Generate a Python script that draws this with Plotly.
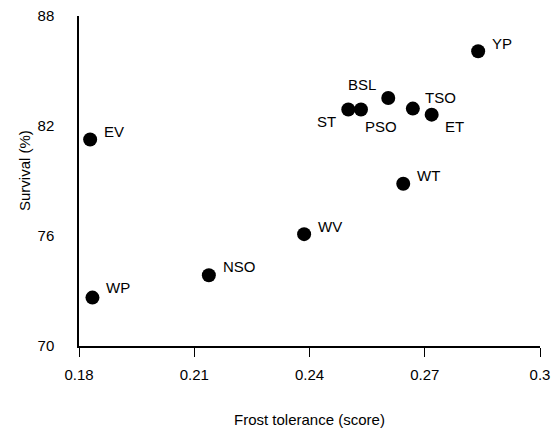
import plotly.graph_objects as go

# Seed sources: frost tolerance score vs. survival
sources = ["EV", "WP", "NSO", "WV", "YP", "BSL", "ST", "PSO", "TSO", "ET", "WT"]
frost_tolerance = [0.1829, 0.1835, 0.2138, 0.2386, 0.2839, 0.2605, 0.2501, 0.2534, 0.2669, 0.2718, 0.2644]
survival = [81.26, 72.64, 73.86, 76.10, 86.08, 83.53, 82.90, 82.90, 82.95, 82.62, 78.85]

x_ticks = [0.18, 0.21, 0.24, 0.27, 0.30]
x_tick_text = ["0.18", "0.21", "0.24", "0.27", "0.3"]
y_ticks = [70, 76, 82, 88]

# label placement per source: (xanchor, xshift, yshift)
label_offsets = {
    "EV": ("left", 12, 8),
    "WP": ("left", 12, 10),
    "NSO": ("left", 12, 9),
    "WV": ("left", 12, 8),
    "YP": ("left", 12, 8),
    "BSL": ("right", -10, 13),
    "ST": ("right", -10, -12),
    "PSO": ("left", 2, -17),
    "TSO": ("left", 10, 11),
    "ET": ("left", 11, -12),
    "WT": ("left", 12, 8),
}

font_family = "Liberation Sans, Arial, sans-serif"

fig = go.Figure()
fig.add_trace(go.Scatter(
    x=frost_tolerance, y=survival, mode="markers",
    marker=dict(size=14, color="black", line=dict(width=0)),
    hoverinfo="text", text=sources, showlegend=False,
))

for name, xv, yv in zip(sources, frost_tolerance, survival):
    anchor, dx, dy = label_offsets[name]
    fig.add_annotation(
        x=xv, y=yv, text=name, showarrow=False,
        xanchor=anchor, yanchor="middle", xshift=dx, yshift=dy,
        font=dict(family=font_family, size=15, color="black"),
    )

# axis titles
fig.add_annotation(
    xref="paper", yref="paper", x=(309 - 79) / 461, y=-(419 - 346) / 330,
    text="Frost tolerance (score)", showarrow=False,
    xanchor="center", yanchor="middle",
    font=dict(family=font_family, size=15, color="black"),
)
fig.add_annotation(
    xref="paper", yref="paper", x=-(79 - 24) / 461, y=(346 - 171) / 330,
    text="Survival (%)", showarrow=False, textangle=-90,
    xanchor="center", yanchor="middle",
    font=dict(family=font_family, size=15, color="black"),
)

fig.update_layout(
    width=554, height=428,
    margin=dict(l=79, r=14, t=16, b=82),
    paper_bgcolor="white", plot_bgcolor="white",
    font=dict(family=font_family, size=14, color="black"),
    xaxis=dict(
        range=[0.18, 0.30], tickvals=x_ticks, ticktext=x_tick_text,
        showgrid=False, zeroline=False, showline=True, automargin=False,
        linecolor="black", linewidth=1.5,
        ticks="outside", ticklen=9, tickwidth=1, tickcolor="black",
        ticklabelstandoff=5,
        tickfont=dict(size=15, color="black"),
    ),
    yaxis=dict(
        range=[70, 88], tickvals=y_ticks,
        showgrid=False, zeroline=False, showline=True, automargin=False,
        linecolor="black", linewidth=1.5,
        ticks="", ticklabelstandoff=20,
        tickfont=dict(size=15, color="black"),
    ),
)

fig.write_html("out.html")
